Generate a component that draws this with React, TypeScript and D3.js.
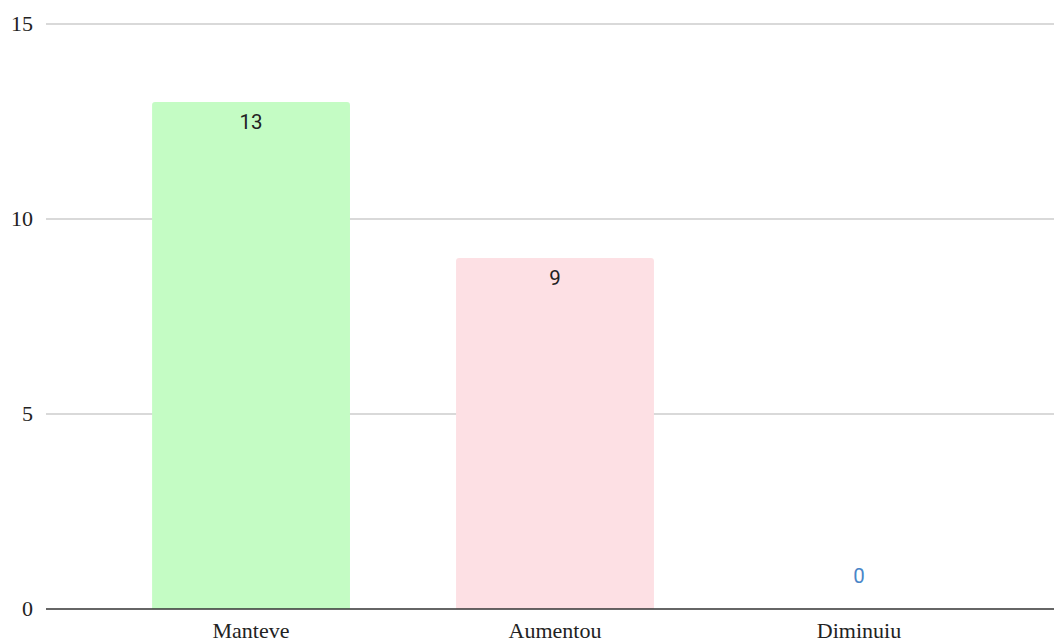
import React from "react";
import * as d3 from "d3";

const categories = ["Manteve", "Aumentou", "Diminuiu"];
const values = [13, 9, 0];
const barColors = ["#c4fcc4", "#fde0e4", "#c9daf8"];
const yTicks = [0, 5, 10, 15];

const W = 1054;
const H = 643;

export default function App() {
  const x = d3
    .scaleBand<string>()
    .domain(categories)
    .range([46, 1064])
    .paddingInner(0.349)
    .paddingOuter(0.349);
  const y = d3.scaleLinear().domain([0, 15]).range([609, 24]);
  const r = 3;

  const barPath = (cat: string, v: number) => {
    const x0 = x(cat)!;
    const w = x.bandwidth();
    const y0 = y(0);
    const y1 = y(v);
    if (y0 - y1 < r) return "";
    return `M${x0},${y0}V${y1 + r}Q${x0},${y1} ${x0 + r},${y1}H${x0 + w - r}Q${x0 + w},${y1} ${x0 + w},${y1 + r}V${y0}Z`;
  };

  return (
    <svg
      width={W}
      height={H}
      style={{ position: "absolute", left: 0, top: 0, background: "#fff" }}
    >
      <rect width={W} height={H} fill="#fff" />
      {yTicks
        .filter((t) => t !== 0)
        .map((t) => (
          <line
            key={`g${t}`}
            x1={46}
            x2={W}
            y1={y(t)}
            y2={y(t)}
            stroke="#cccccc"
            strokeWidth={1.4}
          />
        ))}
      {yTicks.map((t) => (
        <text
          key={`t${t}`}
          x={33}
          y={y(t)}
          dy="0.34em"
          textAnchor="end"
          fontFamily="'Liberation Serif', 'Times New Roman', serif"
          fontSize={22}
          fill="#222"
        >
          {t}
        </text>
      ))}
      {categories.map((c, i) => (
        <path key={`b${c}`} d={barPath(c, values[i])} fill={barColors[i]} />
      ))}
      <line x1={46} x2={W} y1={y(0)} y2={y(0)} stroke="#333" strokeWidth={1.6} />
      {categories.map((c, i) => {
        const cx = x(c)! + x.bandwidth() / 2;
        const v = values[i];
        const inside = v > 0;
        return (
          <text
            key={`v${c}`}
            x={cx}
            y={inside ? y(v) + 27 : y(0) - 26}
            textAnchor="middle"
            fontFamily="Roboto, 'Noto Sans', sans-serif"
            fontSize={20.5}
            fill={inside ? "#222" : "#4a86c8"}
          >
            {v}
          </text>
        );
      })}
      {categories.map((c) => (
        <text
          key={`c${c}`}
          x={x(c)! + x.bandwidth() / 2}
          y={638}
          textAnchor="middle"
          fontFamily="'Liberation Serif', 'Times New Roman', serif"
          fontSize={22}
          fill="#222"
        >
          {c}
        </text>
      ))}
    </svg>
  );
}
